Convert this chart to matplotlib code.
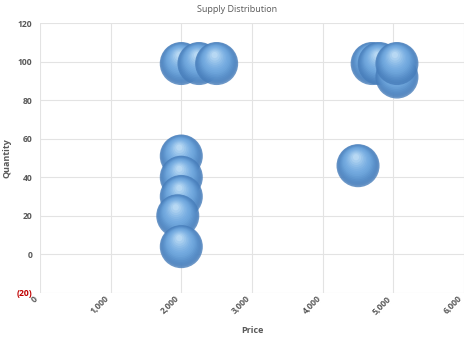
import matplotlib
matplotlib.use("Agg")
import matplotlib.pyplot as plt
import matplotlib.transforms as mtransforms
from matplotlib.ticker import FuncFormatter, MultipleLocator
import numpy as np

price = [2000, 2250, 2500, 4700, 4800, 5050, 5050, 2000, 2000, 2000, 1950, 2000, 4500]
quantity = [99, 99, 99, 99, 99, 92, 99, 51, 40, 30, 20, 4, 46]

plt.rcParams["font.family"] = ["Open Sans", "DejaVu Sans"]
fig = plt.figure(figsize=(4.75, 3.39), dpi=100)
ax = fig.add_axes([0.084, 0.136, 0.893, 0.796])
ax.set_xlim(0, 6000)
ax.set_ylim(-20, 120)
ax.xaxis.set_major_locator(MultipleLocator(1000))
ax.yaxis.set_major_locator(MultipleLocator(20))
ax.grid(True, color="#e3e3e3", linewidth=0.8)
ax.set_axisbelow(True)
for s in ax.spines.values():
    s.set_visible(False)
ax.tick_params(length=0, labelsize=6.2, labelcolor="#595959")
ax.tick_params(axis="y", pad=5.5)
ax.tick_params(axis="x", pad=1)

def fmt(v, pos):
    v = int(round(v))
    if v < 0:
        return "({:,})".format(-v)
    return "{:,}".format(v)

ax.xaxis.set_major_formatter(FuncFormatter(fmt))
ax.yaxis.set_major_formatter(FuncFormatter(fmt))
for lab in ax.get_xticklabels():
    lab.set_rotation(45)
    lab.set_ha("right")
    lab.set_fontweight("bold")
for lab in ax.get_yticklabels():
    lab.set_fontweight("bold")
fig.canvas.draw()
for lab in ax.get_yticklabels():
    if lab.get_text().startswith("("):
        lab.set_color("#c00000")

ax.set_xlabel("Price", fontsize=6.5, color="#595959", fontweight="bold")
ax.set_ylabel("Quantity", fontsize=6.5, color="#595959", fontweight="bold")
ax.xaxis.set_label_coords(0.5, -0.122)
ax.yaxis.set_label_coords(-0.068, 0.5)
fig.text(0.5, 0.985, "Supply Distribution", ha="center", va="top", fontsize=6.5, color="#595959")

# sphere-like bubbles
R = 15.5  # radius in points
n = 16
c_edge = np.array([0.28, 0.49, 0.73])
c_mid = np.array([0.45, 0.67, 0.88])
c_hi = np.array([0.85, 0.93, 0.99])
for i, (x, y) in enumerate(zip(price, quantity)):
    z = 3 + i * (n + 2)
    ax.scatter([x], [y], s=(2 * R) ** 2, color=c_edge, alpha=0.8, edgecolors="none", zorder=z)
    for k in range(1, n):
        f = k / n
        r = R * (1 - f) ** 0.7
        dx = -0.1 * R * f
        dy = 0.42 * R * f
        tr = mtransforms.offset_copy(ax.transData, fig=fig, x=dx, y=dy, units="points")
        if f < 0.45:
            c = c_edge + (c_mid - c_edge) * (f / 0.45)
        else:
            c = c_mid + (c_hi - c_mid) * ((f - 0.45) / 0.55) ** 1.6
        ax.scatter([x], [y], s=(2 * r) ** 2, color=c, alpha=0.5,
                   edgecolors="none", zorder=z + k, transform=tr)

fig.savefig("out.png", dpi=100)
